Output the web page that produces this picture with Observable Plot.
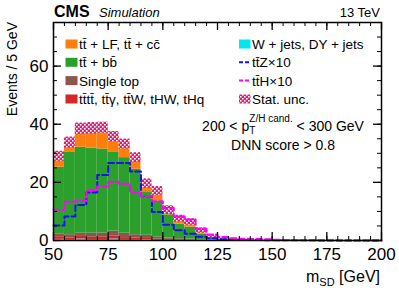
<!DOCTYPE html>
<html><head><meta charset="utf-8">
<script src="https://cdn.jsdelivr.net/npm/d3@7"></script>
<script src="https://cdn.jsdelivr.net/npm/@observablehq/plot@0.6"></script>
<style>
body{margin:0;background:#fff;}
#wrap{position:relative;width:399px;height:291px;}
</style></head><body><div id="wrap"></div>
<script>
// ---- data ----
const binLow = [50,55,60,65,70,75,80,85,90,95,100,105,110,115,120,125,130,135,140,145,150,155,160,165,170,175,180,185,190,195];
const binWidth = 5;
const wjets     = [0.4,0.1,0.5,0.1,0.1,0.5,0.1,0.1,0.3,0.05,0.05,0,0,0,0,0,0,0,0,0,0,0,0,0,0,0,0,0,0,0];
const rare      = [0.9,0.7,0.9,1.0,1.0,1.1,0.9,0.8,0.7,0.5,0.35,0.25,0.2,0.1,0.05,0,0,0,0,0,0,0,0,0,0,0,0,0,0,0];
const singleTop = [1.0,1.2,1.1,1.4,1.5,1.6,1.5,1.1,0.8,0.6,0.45,0.35,0.3,0.15,0.08,0.03,0,0,0,0,0,0,0,0,0,0,0,0,0,0];
const ttbb      = [22.9,28.3,29.6,29.3,28.9,27.1,26.0,22.5,14.7,12.4,8.0,5.0,4.1,2.0,0.7,0.3,0.12,0.08,0.06,0.04,0.04,0.02,0.02,0,0,0,0,0,0,0];
const ttLF      = [3.8,3.4,6.3,6.8,7.3,5.4,4.7,4.0,3.1,3.5,1.6,1.9,1.8,1.2,0.4,0.25,0.15,0.1,0.07,0.05,0.05,0.03,0.03,0,0,0,0,0,0,0];
const statUnc   = [1.7,1.9,2.0,2.0,1.9,1.8,1.7,1.7,1.6,1.5,1.5,1.2,1.1,0.9,0.5,0.3,0.2,0.15,0.1,0.1,0.1,0.05,0.05,0,0,0,0,0,0,0];
const ttZx10    = [5.2,8.3,12.2,16.5,22.5,26.7,26.7,23.7,15.2,9.8,5.4,3.5,2.3,1.3,0.8,0.4,0.25,0.2,0.15,0.1,0.1,0.08,0.05,0.05,0.03,0.03,0.02,0,0,0];
const ttHx10    = [10.6,13.3,13.6,17.3,18.6,20.2,19.5,16.5,15.3,13.5,11.2,8.3,7.2,4.0,2.1,1.2,0.8,0.6,0.5,0.4,0.3,0.2,0.15,0.1,0.08,0.05,0.04,0.03,0.02,0.01];
const xTicks = [50,75,100,125,150,175,200];
const yTicks = [0,20,40,60];
const procNames  = ["W + jets, DY + jets","rare","Single top","ttbb","ttLF"];
const procValues = [wjets, rare, singleTop, ttbb, ttLF];
const procColors = ["#00e8ee","#d62728","#8c564b","#2ca02c","#ff7f0e"];

// ---- layout ----
const W = 399, H = 291, mL = 53, mR = 18, mT = 22, mB = 51;
const fW = W - mL - mR, fH = H - mT - mB;
const FONT = "'Liberation Sans', Arial, Helvetica, sans-serif";

// stacked rows
const stackRows = [];
const binRows = [];
binLow.forEach((x, i) => {
  let c = 0;
  procValues.forEach((vals, k) => {
    const v = vals[i];
    stackRows.push({x1: x, x2: x + binWidth, y1: c, y2: c + v, proc: procNames[k]});
    c += v;
  });
  binRows.push({x1: x, x2: x + binWidth, total: c, unc: statUnc[i]});
});
function steps(vals) {
  const pts = [];
  binLow.forEach((x, i) => { pts.push({x, y: vals[i]}); pts.push({x: x + binWidth, y: vals[i]}); });
  return pts;
}
const xMinor = d3.range(50, 201, 5), yMinor = d3.range(0, 76, 5);

const plot = Plot.plot({
  width: W, height: H, marginLeft: mL, marginRight: mR, marginTop: mT, marginBottom: mB,
  x: {domain: [50, 200]},
  y: {domain: [0, 75]},
  color: {domain: procNames, range: procColors},
  style: {fontFamily: FONT, color: "black", background: "white", overflow: "visible"},
  marks: [
    Plot.rect(stackRows, {x1: "x1", x2: "x2", y1: "y1", y2: "y2", fill: "proc"}),
    Plot.rect(binRows, {x1: "x1", x2: "x2", y1: d => d.total - d.unc, y2: d => d.total + d.unc, fill: "url(#statHatch)"}),
    Plot.line(steps(ttZx10), {x: "x", y: "y", stroke: "#1515ee", strokeWidth: 2, strokeDasharray: "6,3"}),
    Plot.line(steps(ttHx10), {x: "x", y: "y", stroke: "#ff00ff", strokeWidth: 2, strokeDasharray: "6,3"}),
    // inward ticks
    Plot.tickX(xMinor, {x: d => d, insetTop: fH - 4, stroke: "black"}),
    Plot.tickX(xMinor, {x: d => d, insetBottom: fH - 4, stroke: "black"}),
    Plot.tickX(xTicks, {x: d => d, insetTop: fH - 8, stroke: "black", strokeWidth: 1.3}),
    Plot.tickX(xTicks, {x: d => d, insetBottom: fH - 8, stroke: "black", strokeWidth: 1.3}),
    Plot.tickY(yMinor, {y: d => d, insetRight: fW - 4, stroke: "black"}),
    Plot.tickY(yMinor, {y: d => d, insetLeft: fW - 4, stroke: "black"}),
    Plot.tickY(yTicks, {y: d => d, insetRight: fW - 8, stroke: "black", strokeWidth: 1.3}),
    Plot.tickY(yTicks, {y: d => d, insetLeft: fW - 8, stroke: "black", strokeWidth: 1.3}),
    Plot.frame({stroke: "black", strokeWidth: 1.5}),
    Plot.axisX({ticks: xTicks, tickSize: 0, tickPadding: 7, fontSize: 17, label: null}),
    Plot.axisY({ticks: yTicks, tickSize: 0, tickPadding: 5, fontSize: 17, label: null})
  ]
});
document.getElementById("wrap").appendChild(plot);

const svg = d3.select(plot);
const defs = svg.insert("defs", ":first-child");
const pat = defs.append("pattern").attr("id", "statHatch").attr("patternUnits", "userSpaceOnUse").attr("width", 4).attr("height", 4);
pat.append("rect").attr("width", 4).attr("height", 4).attr("fill", "#dc1f78");
pat.append("rect").attr("x", 0).attr("y", 0).attr("width", 1.6).attr("height", 1.6).attr("fill", "#fff");
pat.append("rect").attr("x", 2).attr("y", 2).attr("width", 1.6).attr("height", 1.6).attr("fill", "#fff");

const g = svg.append("g").attr("font-family", FONT).attr("fill", "black").attr("text-anchor", "start");
function text(x, y, s, size, opts = {}) {
  const t = g.append("text").attr("x", x).attr("y", y).attr("font-size", size).attr("text-anchor", opts.anchor || "start").text(s);
  if (opts.weight) t.attr("font-weight", opts.weight);
  if (opts.style) t.attr("font-style", opts.style);
  return t;
}
// header
text(54, 17, "CMS", 16, {weight: "bold"});
text(99, 17, "Simulation", 13, {style: "italic"});
text(380, 17, "13 TeV", 13, {anchor: "end"});

// axis titles
text(0, 0, "Events / 5 GeV", 14, {anchor: "end"}).attr("transform", "translate(17,22) rotate(-90)");
const xt = g.append("text").attr("x", 380).attr("y", 282).attr("text-anchor", "end").attr("font-size", 16);
xt.append("tspan").text("m");
xt.append("tspan").attr("font-size", 11).attr("dy", 4).text("SD");
xt.append("tspan").attr("dy", -4).text(" [GeV]");

// legend
const legFont = 13.5;
const rowY = [44, 62.3, 80.6, 99];
const leftItems = [
  {label: "tt\u0304 + LF, tt\u0304 + cc\u0304", color: "#ff7f0e"},
  {label: "tt\u0304 + bb\u0304", color: "#2ca02c"},
  {label: "Single top", color: "#8c564b"},
  {label: "tt\u0304tt\u0304, tt\u0304\u03b3, tt\u0304W, tHW, tHq", color: "#d62728"}
];
leftItems.forEach((it, i) => {
  g.append("rect").attr("x", 65.5).attr("y", rowY[i] - 4.5).attr("width", 12).attr("height", 9).attr("fill", it.color);
  text(79, rowY[i] + 5, it.label, legFont);
});
const rx = 239, rtx = 252;
g.append("rect").attr("x", rx).attr("y", rowY[0] - 4.5).attr("width", 11.5).attr("height", 9).attr("fill", "#00e8ee");
text(rtx, rowY[0] + 5, "W + jets, DY + jets", legFont);
g.append("line").attr("x1", rx).attr("x2", rx + 12).attr("y1", rowY[1]).attr("y2", rowY[1]).attr("stroke", "#1515ee").attr("stroke-width", 2).attr("stroke-dasharray", "4,2");
text(rtx, rowY[1] + 5, "tt\u0304Z\u00d710", legFont);
g.append("line").attr("x1", rx).attr("x2", rx + 12).attr("y1", rowY[2]).attr("y2", rowY[2]).attr("stroke", "#ff00ff").attr("stroke-width", 2).attr("stroke-dasharray", "4,2");
text(rtx, rowY[2] + 5, "tt\u0304H\u00d710", legFont);
g.append("rect").attr("x", rx).attr("y", rowY[3] - 4.5).attr("width", 11.5).attr("height", 9).attr("fill", "url(#statHatch)");
text(rtx, rowY[3] + 5, "Stat. unc.", legFont);

// annotations
const a1 = g.append("text").attr("x", 283).attr("y", 131).attr("text-anchor", "middle").attr("font-size", 14);
a1.append("tspan").text("200 < p");
a1.append("tspan").attr("font-size", 10).attr("dy", 3).text("T");
a1.append("tspan").attr("font-size", 10).attr("dx", -6).attr("dy", -12).text("Z/H cand.");
a1.append("tspan").attr("dy", 9).text(" < 300 GeV");
text(283, 150, "DNN score > 0.8", 14, {anchor: "middle"});
</script>
</body></html>
